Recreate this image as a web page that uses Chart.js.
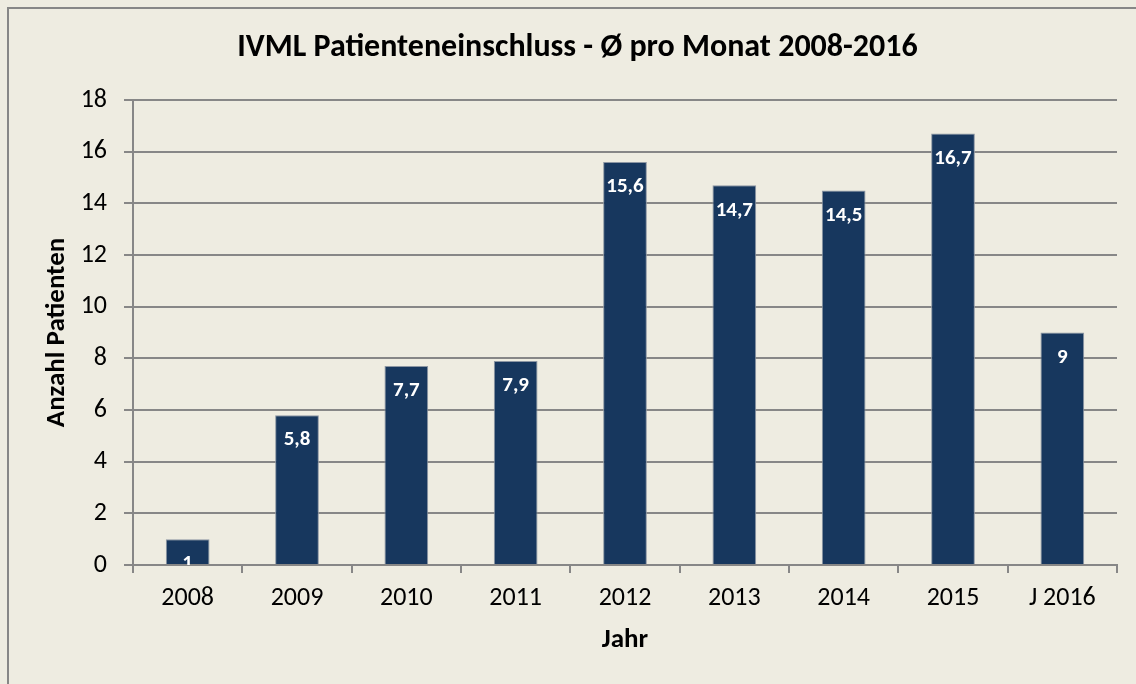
<!DOCTYPE html>
<html>
<head>
<meta charset="utf-8">
<script src="https://cdn.jsdelivr.net/npm/chart.js@4"></script>
<style>
  html, body { margin: 0; padding: 0; background: #EEECE1; }
  #wrap { width: 1136px; height: 684px; }
</style>
</head>
<body>
<div id="wrap"><canvas id="chart" width="1136" height="684"></canvas></div>
<script>
const years = ["2008", "2009", "2010", "2011", "2012", "2013", "2014", "2015", "J 2016"];
const perMonth = [1, 5.8, 7.7, 7.9, 15.6, 14.7, 14.5, 16.7, 9];
const yTicks = [0, 2, 4, 6, 8, 10, 12, 14, 16, 18];

const FONT = "Carlito, Lato, 'Noto Sans', sans-serif";
const GRID = "#878787";

// beige background + grey frame (only left/top are inside the picture)
const frame = {
    id: "frame",
    beforeDraw(chart) {
        const ctx = chart.ctx;
        ctx.save();
        ctx.fillStyle = "#EEECE1";
        ctx.fillRect(0, 0, chart.width, chart.height);
        ctx.strokeStyle = GRID;
        ctx.lineWidth = 2;
        ctx.strokeRect(8, 8, chart.width + 20, chart.height + 20);
        ctx.restore();
    }
};

// white values inside the top of each bar, cut at the axis
const valueLabels = {
    id: "valueLabels",
    afterDatasetsDraw(chart) {
        const ctx = chart.ctx;
        const area = chart.chartArea;
        const meta = chart.getDatasetMeta(0);
        ctx.save();
        ctx.beginPath();
        ctx.rect(area.left, area.top, area.right - area.left, area.bottom - area.top);
        ctx.clip();
        ctx.fillStyle = "#ffffff";
        ctx.font = "bold 21px " + FONT;
        ctx.textAlign = "center";
        ctx.textBaseline = "middle";
        meta.data.forEach((bar, i) => {
            const txt = String(perMonth[i]).replace(".", ",");
            ctx.fillText(txt, bar.x, bar.y + 25);
        });
        ctx.restore();
    }
};

new Chart(document.getElementById("chart"), {
    type: "bar",
    data: {
        labels: years,
        datasets: [{
            data: perMonth,
            backgroundColor: "#17375E",
            borderColor: "#8C96A3",
            borderWidth: 1,
            categoryPercentage: 1,
            barPercentage: 0.4
        }]
    },
    options: {
        responsive: false,
        animation: false,
        layout: { padding: { left: 38, right: 19, top: 0, bottom: 0 } },
        plugins: {
            legend: { display: false },
            tooltip: { enabled: false },
            title: {
                display: true,
                text: "IVML Patienteneinschluss - Ø pro Monat 2008-2016",
                color: "#000",
                font: { family: FONT, size: 32, weight: "bold", lineHeight: 1.2 },
                padding: { top: 28.8, bottom: 32.8 }
            }
        },
        scales: {
            x: {
                grid: { display: true, drawOnChartArea: false, color: GRID, lineWidth: 2, tickLength: 8, offset: true },
                border: { display: true, color: GRID, width: 2 },
                ticks: { color: "#000", font: { family: FONT, size: 26 }, padding: 10 },
                title: {
                    display: true, text: "Jahr", color: "#000",
                    font: { family: FONT, size: 27, weight: "bold", lineHeight: 1.2 },
                    padding: { top: 0, bottom: 27.8 }
                },
                afterFit(s) { s.height = 684 - 565; }
            },
            y: {
                min: 0,
                max: 18,
                afterBuildTicks(s) { s.ticks = yTicks.map(v => ({ value: v })); },
                grid: { color: GRID, lineWidth: 2, tickLength: 9 },
                border: { display: true, color: GRID, width: 2 },
                ticks: { color: "#000", font: { family: FONT, size: 26 }, padding: 17 },
                title: {
                    display: true, text: "Anzahl Patienten", color: "#000",
                    font: { family: FONT, size: 27, weight: "bold", lineHeight: 1.2 },
                    padding: { top: 3.3, bottom: 0 }
                },
                afterFit(s) { s.width = 133 - 38; }
            }
        }
    },
    plugins: [frame, valueLabels]
});
</script>
</body>
</html>
